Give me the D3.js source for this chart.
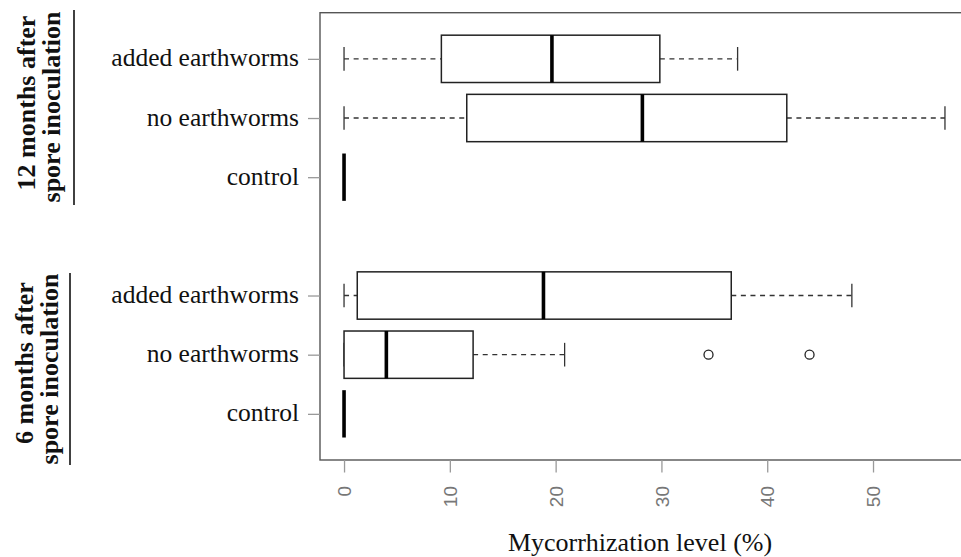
<!DOCTYPE html>
<html>
<head>
<meta charset="utf-8">
<script src="https://cdn.jsdelivr.net/npm/d3@7"></script>
<style>
body { margin: 0; background: #fff; }
svg { display: block; }
.serif { font-family: "Liberation Serif", "Times New Roman", serif; fill: #111; }
.ticklab { font-family: "Liberation Sans", Arial, sans-serif; fill: #777; }
</style>
</head>
<body>
<div id="chart"></div>
<script>
// box stats, top to bottom
var labels       = ['added earthworms','no earthworms','control','added earthworms','no earthworms','control']
var positions    = [7, 6, 5, 3, 2, 1]
var lowWhisker   = [0, 0, 0, 0, 0, 0]
var q1           = [9.2, 11.6, 0, 1.25, 0, 0]
var median       = [19.65, 28.2, 0, 18.85, 4.0, 0]
var q3           = [29.85, 41.85, 0, 36.6, 12.2, 0]
var highWhisker  = [37.2, 56.8, 0, 48.0, 20.85, 0]
var outliers     = [[], [], [], [], [34.45, 44.0], []]
var xTicks       = [0, 10, 20, 30, 40, 50]
var groupLines   = [['12 months after','spore inoculation'], ['6 months after','spore inoculation']]
var xTitle       = 'Mycorrhization level (%)'

var wd = 961, ht = 557
var svg = d3.select('#chart').append('svg').attr('width', wd).attr('height', ht)

// R style: range padded by 4%
var lo = d3.min(lowWhisker), hi = d3.max(highWhisker.concat(d3.merge(outliers)))
var pad = (hi - lo) * 0.04
var x = d3.scaleLinear().domain([lo - pad, hi + pad]).range([320, 969])
var y = d3.scaleLinear().domain([0.5 - 0.28, 7.5 + 0.28]).range([460, 12.7])
var unit = y(0) - y(1)
var half = 0.4 * unit, capHalf = 0.2 * unit

// frame
svg.append('rect')
	.attr('x', x.range()[0]).attr('y', y.range()[1])
	.attr('width', x.range()[1] - x.range()[0]).attr('height', y.range()[0] - y.range()[1])
	.attr('fill', 'none').attr('stroke', '#555').attr('stroke-width', 1.4)

// x axis
var xAxis = svg.append('g').attr('transform', 'translate(0,460)')
	.call(d3.axisBottom(x).tickValues(xTicks).tickSize(12.5).tickFormat(d3.format('d')))
xAxis.select('.domain').remove()
xAxis.selectAll('.tick line').attr('stroke', '#999').attr('stroke-width', 1.3)
xAxis.selectAll('.tick text').attr('class', 'ticklab').attr('font-size', 19)
	.attr('text-anchor', 'end').attr('transform', 'translate(0,26) rotate(-90)')
	.attr('x', 0).attr('y', 0).attr('dy', '0.35em')

// y axis
var yAxis = svg.append('g').attr('transform', 'translate(320,0)')
	.call(d3.axisLeft(y).tickValues(positions).tickSize(12).tickFormat(function(d, i){ return labels[i] }))
yAxis.select('.domain').remove()
yAxis.selectAll('.tick line').attr('stroke', '#999').attr('stroke-width', 1.3)
yAxis.selectAll('.tick text').attr('class', 'serif').attr('font-size', 25.5)
	.attr('x', -21).attr('dy', '0.28em')

// boxes
var boxes = svg.append('g').attr('id', 'boxes')
positions.forEach(function(p, i){
	var cy = y(p)
	var g = boxes.append('g')
	var whiskers = [[lowWhisker[i], q1[i]], [q3[i], highWhisker[i]]]
	whiskers.forEach(function(w){
		if (w[1] - w[0] > 0) {
			g.append('line').attr('x1', x(w[0])).attr('x2', x(w[1])).attr('y1', cy).attr('y2', cy)
				.attr('stroke', '#333').attr('stroke-width', 1.3).attr('stroke-dasharray', '5,4.6')
		}
	})
	if (highWhisker[i] > lowWhisker[i]) {
		[lowWhisker[i], highWhisker[i]].forEach(function(v){
			g.append('line').attr('x1', x(v)).attr('x2', x(v)).attr('y1', cy - capHalf).attr('y2', cy + capHalf)
				.attr('stroke', '#333').attr('stroke-width', 1.3)
		})
		g.append('rect').attr('x', x(q1[i])).attr('y', cy - half)
			.attr('width', x(q3[i]) - x(q1[i])).attr('height', 2 * half)
			.attr('fill', '#fff').attr('stroke', '#222').attr('stroke-width', 1.5)
	}
	g.append('line').attr('x1', x(median[i])).attr('x2', x(median[i]))
		.attr('y1', cy - half).attr('y2', cy + half)
		.attr('stroke', '#000').attr('stroke-width', 3.6)
	outliers[i].forEach(function(v){
		g.append('circle').attr('cx', x(v)).attr('cy', cy).attr('r', 4.5)
			.attr('fill', 'none').attr('stroke', '#222').attr('stroke-width', 1.3)
	})
})

// group labels, rotated, with rule on the right
var grpCenter = [[103, 107], [363, 369]]
var grpBase   = [[35, 60], [33, 58]]
var grpRule   = [[74, 10, 205], [70, 273, 465]]
groupLines.forEach(function(lines, gi){
	lines.forEach(function(t, li){
		svg.append('text').attr('class', 'serif').attr('font-size', 26).attr('font-weight', 'bold')
			.attr('text-anchor', 'middle')
			.attr('transform', 'translate(' + grpBase[gi][li] + ',' + grpCenter[gi][li] + ') rotate(-90)')
			.text(t)
	})
	svg.append('line').attr('x1', grpRule[gi][0]).attr('x2', grpRule[gi][0])
		.attr('y1', grpRule[gi][1]).attr('y2', grpRule[gi][2])
		.attr('stroke', '#111').attr('stroke-width', 1.6)
})

// x title
svg.append('text').attr('class', 'serif').attr('font-size', 26)
	.attr('text-anchor', 'middle').attr('x', 640).attr('y', 551).text(xTitle)
</script>
</body>
</html>
